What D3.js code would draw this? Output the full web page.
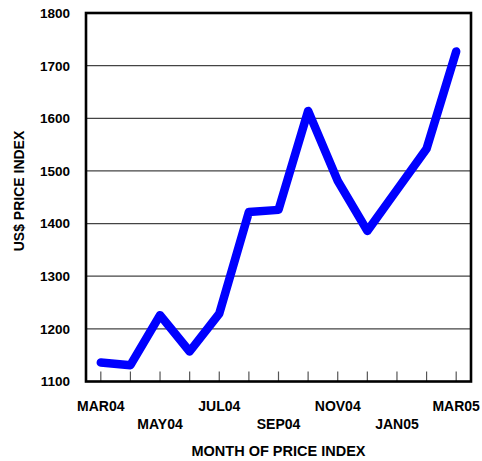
<!DOCTYPE html>
<html><head><meta charset="utf-8">
<script src="https://cdn.jsdelivr.net/npm/d3@7"></script>
<style>body{margin:0;background:#fff}svg{display:block}text{font-family:"Liberation Sans",Arial,sans-serif;font-weight:bold;fill:#000}</style>
</head><body>
<svg id="c" width="482" height="461"></svg>
<script>
const months = ["MAR04","APR04","MAY04","JUN04","JUL04","AUG04","SEP04","OCT04","NOV04","DEC04","JAN05","FEB05","MAR05"];
const priceIndex = [1136,1131,1226,1157,1229,1422,1426,1614,1481,1386,1464,1542,1727];
const yTicks = [1100,1200,1300,1400,1500,1600,1700,1800];
const xLabelMonths = ["MAR04","MAY04","JUL04","SEP04","NOV04","JAN05","MAR05"];

const svg = d3.select("#c");
const L = 86, R = 471, T = 13, B = 381.5;
const x = d3.scaleBand().domain(months).range([L, R]);
const cx = m => x(m) + x.bandwidth()/2;
const y = d3.scaleLinear().domain([1100,1800]).range([B, T]);

// gridlines
svg.append("g").selectAll("line").data(yTicks.slice(1,-1)).join("line")
  .attr("x1", L).attr("x2", R).attr("y1", d=>y(d)).attr("y2", d=>y(d))
  .attr("stroke", "#444").attr("stroke-width", 1.2);

// x ticks (inward)
svg.append("g").selectAll("line").data(months).join("line")
  .attr("x1", d=>cx(d)).attr("x2", d=>cx(d)).attr("y1", B).attr("y2", B-10)
  .attr("stroke", "#555").attr("stroke-width", 1.2);

// frame
svg.append("rect").attr("x", L).attr("y", T).attr("width", R-L).attr("height", B-T)
  .attr("fill", "none").attr("stroke", "#000").attr("stroke-width", 2.6);

// y labels
svg.append("g").selectAll("text").data(yTicks).join("text")
  .attr("x", 70).attr("y", d=>y(d)).attr("dy", "0.36em").attr("text-anchor", "end")
  .style("font-size", "13.5px").text(d=>d);

// x labels staggered
svg.append("g").selectAll("text").data(xLabelMonths).join("text")
  .attr("x", d=>cx(d)).attr("y", (d,i)=> i%2===0 ? 411 : 429)
  .attr("text-anchor", "middle").style("font-size", "14px").text(d=>d);

// axis titles
svg.append("text").attr("x", 278.5).attr("y", 456).attr("text-anchor","middle")
  .style("font-size","14.5px").text("MONTH OF PRICE INDEX");
svg.append("text").attr("transform", `translate(24,191) rotate(-90)`)
  .attr("text-anchor","middle").style("font-size","14px").text("US$ PRICE INDEX");

// line
const line = d3.line().x((d,i)=>cx(months[i])).y(d=>y(d));
svg.append("path").datum(priceIndex).attr("d", line)
  .attr("fill","none").attr("stroke","#0000ff").attr("stroke-width",8.5)
  .attr("stroke-linejoin","round").attr("stroke-linecap","round");
</script>
</body></html>
